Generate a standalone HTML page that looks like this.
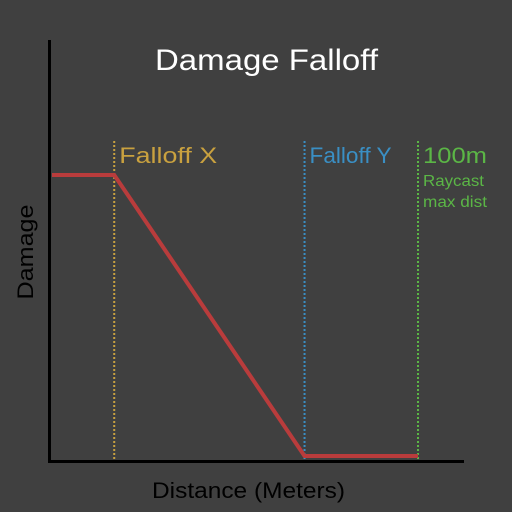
<!DOCTYPE html>
<html><head><style>
html,body{margin:0;padding:0;background:#404040;}
svg{display:block;}
text{font-family:"Liberation Sans","DejaVu Sans",sans-serif;}
</style></head><body>
<svg id="chart" width="512" height="512" viewBox="0 0 512 512">
<rect width="512" height="512" fill="#404040"/>
<text x="155" y="70" font-size="30" fill="#ffffff" textLength="223" lengthAdjust="spacingAndGlyphs">Damage Falloff</text>
<text x="152" y="498" font-size="22" fill="#000000" textLength="193" lengthAdjust="spacingAndGlyphs">Distance (Meters)</text>
<text x="0" y="0" font-size="22" fill="#000000" text-anchor="middle" textLength="95" lengthAdjust="spacingAndGlyphs" transform="translate(33,252) rotate(-90)">Damage</text>
<g id="marks"></g>
<line x1="49.5" y1="40" x2="49.5" y2="463" stroke="#000" stroke-width="3"/>
<line x1="48" y1="461.5" x2="464" y2="461.5" stroke="#000" stroke-width="3"/>
</svg>
<script>
const distances = [0, 17, 69, 100];
const damageValues = [100, 100, 0, 0];
const markerNames = ["Falloff X", "Falloff Y", "100m"];
const markerDistances = [17, 69, 100];

const xs = d => 52 + d * (418 - 52) / 100;
const ys = v => 456 - v * (456 - 175) / 100;
const NS = "http://www.w3.org/2000/svg";
const g = document.getElementById('marks');
const colors = ["#c9a13f", "#3a8fc4", "#5bb646"];
const labelWidths = [98, 82, 64];

markerDistances.forEach((d, i) => {
  const l = document.createElementNS(NS, 'line');
  l.setAttribute('x1', xs(d)); l.setAttribute('x2', xs(d));
  l.setAttribute('y1', 141); l.setAttribute('y2', 460);
  l.setAttribute('stroke', colors[i]); l.setAttribute('stroke-width', 2);
  l.setAttribute('stroke-dasharray', '2 2');
  
  
  g.appendChild(l);
  const t = document.createElementNS(NS, 'text');
  t.setAttribute('x', xs(d) + 5); t.setAttribute('y', 163);
  t.setAttribute('font-size', 22); t.setAttribute('fill', colors[i]);
  t.setAttribute('textLength', labelWidths[i]);
  t.setAttribute('lengthAdjust', 'spacingAndGlyphs');
  t.textContent = markerNames[i];
  
  
  g.appendChild(t);
});
const sub = [["Raycast", 186, 61], ["max dist", 207, 64]];
sub.forEach((s, i) => {
  const t = document.createElementNS(NS, 'text');
  t.setAttribute('x', xs(100) + 5); t.setAttribute('y', s[1]);
  t.setAttribute('font-size', 16); t.setAttribute('fill', colors[2]);
  t.setAttribute('textLength', s[2]);
  t.setAttribute('lengthAdjust', 'spacingAndGlyphs');
  t.textContent = s[0];
  
  
  g.appendChild(t);
});
const p = document.createElementNS(NS, 'polyline');
p.setAttribute('points', distances.map((d, i) => xs(d) + ',' + ys(damageValues[i])).join(' '));
p.setAttribute('fill', 'none'); p.setAttribute('stroke', '#b93c3c'); p.setAttribute('stroke-width', 4);


g.appendChild(p);
</script>
</body></html>
